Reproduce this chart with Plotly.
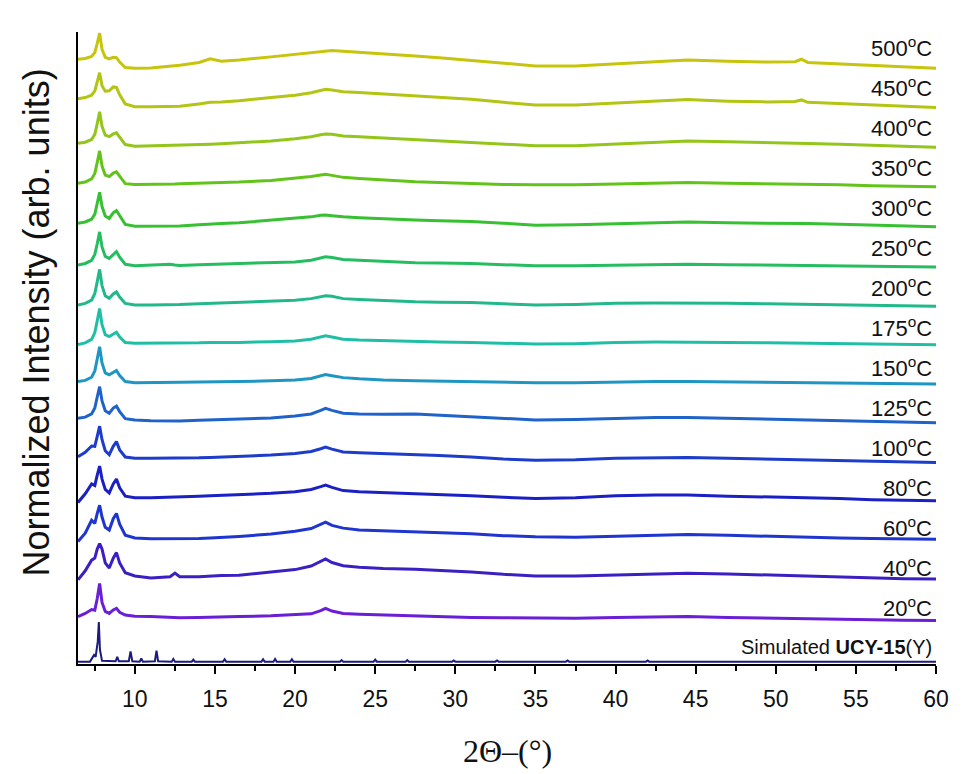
import plotly.graph_objects as go

# 2-theta grid (degrees) shared by the measured patterns
two_theta = [6.45, 6.9, 7.3, 7.5, 7.65, 7.8, 7.95, 8.15, 8.4, 8.65, 8.85, 9.05, 9.4, 10, 11,
             12.2, 12.5, 12.8, 14, 14.7, 15.4, 16.5, 18.5, 20, 21, 21.6, 21.9, 22.3, 23, 24,
             25.5, 27.5, 29, 31, 33, 35, 37.5, 40, 42.5, 44.5, 47, 49.5, 51.2, 51.6, 52, 54,
             56, 58, 60]

labels = ["20", "40", "60", "80", "100", "125", "150", "175", "200", "250", "300", "350",
          "400", "450", "500"]

int_20 = [0.14, 0.22, 0.32, 0.30, 0.60, 0.98, 0.50, 0.27, 0.22, 0.31, 0.35, 0.25, 0.18, 0.15, 0.14,
          0.12, 0.12, 0.11, 0.12, 0.13, 0.13, 0.14, 0.16, 0.18, 0.21, 0.29, 0.35, 0.28, 0.22, 0.20,
          0.18, 0.15, 0.14, 0.12, 0.11, 0.10, 0.10, 0.12, 0.14, 0.14, 0.12, 0.10, 0.09, 0.09, 0.08,
          0.07, 0.06, 0.05, 0.04]
int_40 = [0.07, 0.30, 0.57, 0.62, 0.85, 0.99, 0.85, 0.50, 0.37, 0.62, 0.76, 0.50, 0.25, 0.17, 0.12,
          0.15, 0.24, 0.15, 0.15, 0.17, 0.18, 0.19, 0.28, 0.33, 0.42, 0.53, 0.60, 0.51, 0.43, 0.39,
          0.36, 0.34, 0.31, 0.27, 0.21, 0.17, 0.17, 0.20, 0.23, 0.24, 0.22, 0.19, 0.17, 0.17, 0.16,
          0.14, 0.12, 0.10, 0.09]
int_60 = [0.04, 0.25, 0.58, 0.50, 0.75, 0.96, 0.66, 0.40, 0.33, 0.62, 0.75, 0.48, 0.20, 0.13, 0.11,
          0.11, 0.11, 0.11, 0.12, 0.13, 0.14, 0.17, 0.23, 0.30, 0.37, 0.47, 0.53, 0.45, 0.38, 0.33,
          0.31, 0.29, 0.27, 0.24, 0.19, 0.16, 0.15, 0.18, 0.21, 0.22, 0.20, 0.17, 0.15, 0.15, 0.14,
          0.13, 0.12, 0.11, 0.10]
int_80 = [0.03, 0.25, 0.50, 0.46, 0.72, 0.95, 0.62, 0.36, 0.27, 0.50, 0.62, 0.40, 0.19, 0.15, 0.15,
          0.16, 0.16, 0.17, 0.19, 0.20, 0.21, 0.22, 0.26, 0.30, 0.36, 0.43, 0.47, 0.41, 0.33, 0.30,
          0.28, 0.26, 0.23, 0.20, 0.16, 0.13, 0.15, 0.20, 0.22, 0.22, 0.19, 0.17, 0.16, 0.16, 0.15,
          0.13, 0.10, 0.08, 0.07]
int_100 = [0.19, 0.30, 0.46, 0.45, 0.70, 0.96, 0.62, 0.34, 0.24, 0.45, 0.57, 0.36, 0.18, 0.15, 0.15,
           0.15, 0.15, 0.15, 0.16, 0.17, 0.18, 0.19, 0.23, 0.27, 0.32, 0.39, 0.43, 0.38, 0.31, 0.29,
           0.27, 0.25, 0.22, 0.18, 0.13, 0.10, 0.11, 0.15, 0.17, 0.17, 0.15, 0.13, 0.12, 0.12, 0.11,
           0.09, 0.07, 0.05, 0.04]
int_125 = [0.16, 0.19, 0.27, 0.42, 0.70, 0.96, 0.60, 0.35, 0.29, 0.42, 0.47, 0.33, 0.15, 0.12, 0.10,
           0.09, 0.09, 0.09, 0.11, 0.12, 0.12, 0.13, 0.17, 0.22, 0.27, 0.36, 0.41, 0.36, 0.29, 0.27,
           0.26, 0.27, 0.24, 0.20, 0.15, 0.12, 0.13, 0.16, 0.18, 0.18, 0.16, 0.14, 0.13, 0.13, 0.12,
           0.10, 0.08, 0.06, 0.05]
int_150 = [0.09, 0.12, 0.20, 0.36, 0.66, 0.97, 0.56, 0.31, 0.26, 0.33, 0.37, 0.24, 0.09, 0.06, 0.06,
           0.07, 0.07, 0.07, 0.08, 0.08, 0.09, 0.09, 0.11, 0.13, 0.17, 0.23, 0.27, 0.24, 0.19, 0.16,
           0.13, 0.11, 0.10, 0.09, 0.07, 0.06, 0.06, 0.08, 0.09, 0.09, 0.08, 0.07, 0.07, 0.07, 0.06,
           0.05, 0.04, 0.04, 0.03]
int_175 = [0.03, 0.07, 0.16, 0.33, 0.63, 0.94, 0.53, 0.28, 0.23, 0.30, 0.34, 0.22, 0.08, 0.06, 0.06,
           0.06, 0.06, 0.07, 0.07, 0.08, 0.08, 0.08, 0.10, 0.12, 0.16, 0.21, 0.25, 0.22, 0.16, 0.14,
           0.12, 0.10, 0.09, 0.08, 0.06, 0.04, 0.05, 0.08, 0.09, 0.09, 0.08, 0.07, 0.06, 0.06, 0.06,
           0.05, 0.04, 0.03, 0.02]
int_200 = [0.03, 0.07, 0.15, 0.32, 0.62, 0.93, 0.52, 0.26, 0.20, 0.31, 0.36, 0.23, 0.07, 0.03, 0.03,
           0.03, 0.03, 0.04, 0.06, 0.07, 0.08, 0.09, 0.12, 0.15, 0.19, 0.23, 0.26, 0.25, 0.19, 0.17,
           0.14, 0.11, 0.10, 0.09, 0.06, 0.03, 0.04, 0.07, 0.08, 0.08, 0.07, 0.06, 0.05, 0.05, 0.05,
           0.04, 0.03, 0.02, 0.00]
int_250 = [0.04, 0.08, 0.16, 0.31, 0.58, 0.88, 0.50, 0.26, 0.21, 0.32, 0.38, 0.24, 0.06, 0.02, 0.03,
           0.06, 0.04, 0.03, 0.05, 0.06, 0.07, 0.08, 0.10, 0.12, 0.16, 0.22, 0.25, 0.23, 0.18, 0.16,
           0.13, 0.10, 0.09, 0.08, 0.05, 0.02, 0.02, 0.04, 0.05, 0.06, 0.05, 0.04, 0.04, 0.04, 0.03,
           0.02, 0.01, 0.00, -0.01]
int_300 = [0.10, 0.13, 0.20, 0.33, 0.60, 0.88, 0.52, 0.28, 0.22, 0.36, 0.42, 0.28, 0.07, 0.02, 0.02,
           0.03, 0.03, 0.03, 0.06, 0.08, 0.09, 0.11, 0.17, 0.22, 0.26, 0.30, 0.31, 0.29, 0.26, 0.24,
           0.21, 0.18, 0.16, 0.14, 0.10, 0.05, 0.06, 0.09, 0.12, 0.13, 0.11, 0.10, 0.10, 0.10, 0.09,
           0.07, 0.05, 0.03, 0.01]
int_350 = [0.11, 0.14, 0.22, 0.36, 0.64, 0.93, 0.55, 0.32, 0.28, 0.37, 0.40, 0.28, 0.10, 0.08, 0.08,
           0.09, 0.09, 0.10, 0.11, 0.12, 0.12, 0.14, 0.18, 0.23, 0.28, 0.32, 0.34, 0.31, 0.26, 0.23,
           0.19, 0.15, 0.13, 0.10, 0.08, 0.07, 0.07, 0.09, 0.12, 0.13, 0.11, 0.10, 0.09, 0.09, 0.09,
           0.07, 0.05, 0.03, 0.02]
int_400 = [0.12, 0.15, 0.22, 0.35, 0.62, 0.92, 0.55, 0.33, 0.29, 0.36, 0.39, 0.27, 0.09, 0.05, 0.06,
           0.06, 0.06, 0.07, 0.09, 0.10, 0.11, 0.13, 0.18, 0.24, 0.29, 0.34, 0.36, 0.35, 0.31, 0.29,
           0.26, 0.22, 0.19, 0.15, 0.10, 0.06, 0.06, 0.10, 0.15, 0.18, 0.16, 0.14, 0.13, 0.14, 0.12,
           0.10, 0.07, 0.04, 0.02]
int_450 = [0.25, 0.28, 0.34, 0.45, 0.68, 0.91, 0.58, 0.44, 0.45, 0.55, 0.54, 0.35, 0.12, 0.05, 0.05,
           0.05, 0.05, 0.06, 0.12, 0.16, 0.17, 0.20, 0.28, 0.34, 0.40, 0.46, 0.49, 0.47, 0.43, 0.41,
           0.37, 0.32, 0.29, 0.24, 0.16, 0.09, 0.09, 0.14, 0.19, 0.23, 0.19, 0.17, 0.18, 0.22, 0.16,
           0.13, 0.09, 0.06, 0.03]
int_500 = [0.25, 0.27, 0.32, 0.42, 0.65, 0.91, 0.50, 0.30, 0.26, 0.30, 0.29, 0.18, 0.04, 0.02, 0.03,
           0.08, 0.09, 0.10, 0.17, 0.26, 0.20, 0.23, 0.31, 0.38, 0.42, 0.45, 0.47, 0.47, 0.45, 0.42,
           0.39, 0.33, 0.29, 0.22, 0.15, 0.08, 0.08, 0.13, 0.19, 0.23, 0.20, 0.18, 0.19, 0.25, 0.17,
           0.13, 0.09, 0.05, 0.02]

patterns = [int_20, int_40, int_60, int_80, int_100, int_125, int_150, int_175, int_200,
            int_250, int_300, int_350, int_400, int_450, int_500]

colors = ["#6a1fd6", "#3c1fc3", "#1f35cf", "#1a20c4", "#1c3cc9", "#1f62c9", "#1f95c2",
          "#20bfa5", "#22b98a", "#25bd60", "#36c032", "#62c41a", "#93c51a", "#b3c412", "#c7c40c"]

# simulated pattern of UCY-15(Y)
sim_theta = [6.45, 7.2, 7.45, 7.55, 7.68, 7.75, 7.82, 7.95, 8.8, 8.9, 9.0, 9.62, 9.73, 9.84,
             10.3, 10.4, 10.5, 11.25, 11.35, 11.45, 12.3, 12.4, 12.5, 13.55, 13.65, 13.75,
             15.5, 15.6, 15.7, 17.9, 18.0, 18.1, 18.65, 18.75, 18.85, 19.7, 19.8, 19.9,
             22.8, 22.9, 23.0, 24.9, 25.0, 25.1, 26.9, 27.0, 27.1, 29.8, 29.9, 30.0,
             32.5, 32.6, 32.7, 36.9, 37.0, 37.1, 41.9, 42.0, 42.1, 60]
sim_int = [0.0, 0.0, 0.17, 0.12, 0.5, 1.0, 0.3, 0.02, 0.01, 0.12, 0.01, 0.01, 0.26, 0.01,
           0.0, 0.08, 0.0, 0.01, 0.28, 0.01, 0.0, 0.07, 0.0, 0.0, 0.05, 0.0,
           0.0, 0.06, 0.0, 0.0, 0.06, 0.0, 0.0, 0.07, 0.0, 0.0, 0.06, 0.0,
           0.0, 0.04, 0.0, 0.0, 0.05, 0.0, 0.0, 0.04, 0.0, 0.0, 0.03, 0.0,
           0.0, 0.03, 0.0, 0.0, 0.03, 0.0, 0.0, 0.03, 0.0, 0.0]
sim_color = "#1b1b7e"

offset_step = 1.0

fig = go.Figure()
fig.add_trace(go.Scatter(x=sim_theta, y=sim_int, mode="lines",
                         line=dict(color=sim_color, width=2), showlegend=False))
for i, (vals, col) in enumerate(zip(patterns, colors), start=1):
    fig.add_trace(go.Scatter(x=two_theta, y=[v + i * offset_step for v in vals], mode="lines",
                             line=dict(color=col, width=3), showlegend=False))

font_s = "Liberation Sans, Arial, sans-serif"
annotations = []
for i, lab in enumerate(labels, start=1):
    annotations.append(dict(x=59.9, y=i * offset_step + 0.37 + 0.012 * i, xref="x", yref="y",
                            text=f"{lab}<sup>o</sup>C", showarrow=False, xanchor="right",
                            yanchor="middle", font=dict(family=font_s, size=22, color="#111")))
annotations.append(dict(x=59.9, y=0.37, xref="x", yref="y",
                        text="Simulated <b>UCY-15</b>(Y)", showarrow=False, xanchor="right",
                        yanchor="middle", font=dict(family=font_s, size=20, color="#111")))
annotations.append(dict(x=0.5, y=-0.1377, xref="paper", yref="paper", text="2Θ–(°)",
                        showarrow=False, xanchor="center", yanchor="middle",
                        font=dict(family="Liberation Serif, Times New Roman, serif", size=32,
                                  color="#111")))
annotations.append(dict(x=-0.048, y=0.54, xref="paper", yref="paper",
                        text="Normalized Intensity (arb. units)", textangle=-90,
                        showarrow=False, xanchor="center", yanchor="middle",
                        font=dict(family=font_s, size=36, color="#111")))

fig.update_layout(
    width=971, height=774,
    margin=dict(l=78, r=35, t=32, b=110),
    paper_bgcolor="white", plot_bgcolor="white",
    annotations=annotations,
    xaxis=dict(range=[6.45, 60], tickmode="linear", tick0=10, dtick=5,
               showline=True, linecolor="black", linewidth=2, mirror=False,
               ticks="outside", ticklen=8, tickwidth=2, tickcolor="black",
               ticklabelstandoff=5,
               minor=dict(ticks="outside", ticklen=5, tickwidth=2, dtick=2.5, tick0=7.5,
                          tickcolor="black"),
               showgrid=False, zeroline=False,
               tickfont=dict(family=font_s, size=23, color="#111")),
    yaxis=dict(range=[-0.06, 15.94], showline=True, linecolor="black", linewidth=2,
               showticklabels=False, ticks="", showgrid=False, zeroline=False),
)

fig.write_html("out.html")
